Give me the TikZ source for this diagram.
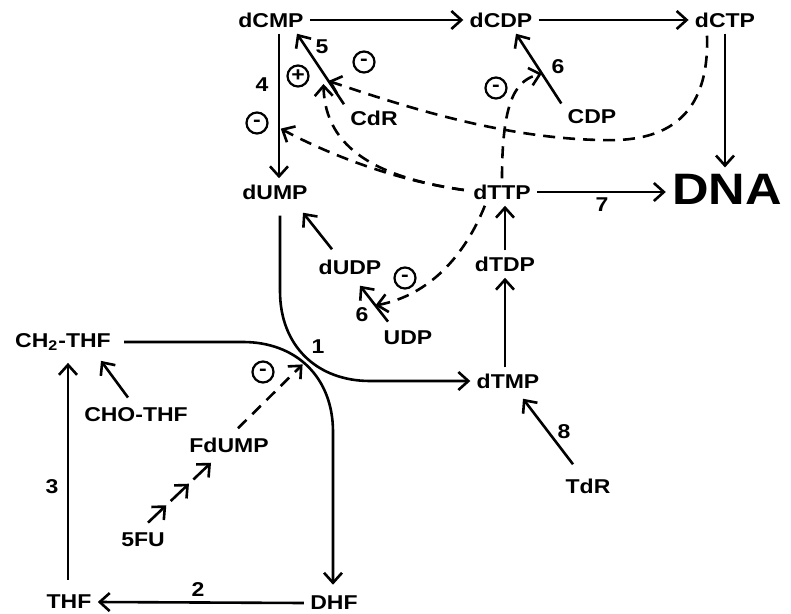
\documentclass[tikz,border=0pt]{standalone}
\usepackage{fontspec}
\setsansfont{Liberation Sans}[FakeStretch=1.15]
\usetikzlibrary{arrows.meta,calc}
\begin{document}
\begin{tikzpicture}[x=0.5pt,y=-0.5pt,
  every node/.style={font=\sffamily\bfseries\fontsize{10}{12}\selectfont, inner sep=3pt},
  big/.style={font=\sffamily\bfseries\fontsize{22}{26}\selectfont},
  num/.style={inner sep=0pt},
  arr/.style={line width=1.3pt, -{Straight Barb[length=5pt,width=9pt,line width=1.3pt]}},
  plain/.style={line width=1.3pt},
  dsh/.style={arr, dash pattern=on 6pt off 4pt},
  sign/.style={circle, draw, line width=1.1pt, minimum size=10.5pt, inner sep=0pt,
    font=\sffamily\bfseries\fontsize{10}{10}\selectfont}
]
\useasboundingbox (0,0) rectangle (791,614);
% metabolites
\node (dCMP) at (271,20) {dCMP};
\node (dCDP) at (501,20) {dCDP};
\node (dCTP) at (725,20) {dCTP};
\node[big] (DNA) at (727,189) {DNA};
\node (dTTP) at (502,192) {dTTP};
\node (dUMP) at (275,192) {dUMP};
\node (dUDP) at (350,267) {dUDP};
\node (dTDP) at (505,264) {dTDP};
\node (UDP) at (408,338) {UDP};
\node (dTMP) at (508,381) {dTMP};
\node (TdR) at (588,486) {TdR};
\node (CH2THF) at (63,342) {CH\textsubscript{2}-THF};
\node (CHOTHF) at (136,415) {CHO-THF};
\node (FdUMP) at (229,445) {FdUMP};
\node (FU) at (143,540) {5FU};
\node (THF) at (69,602) {THF};
\node (DHF) at (334,603) {DHF};
\node (CdR) at (374,118) {CdR};
\node (CDP) at (592,117) {CDP};
% reaction end points
\coordinate (r4s) at ($(dCMP.south)+(8,0)$);
\coordinate (r4e) at (r4s |- dUMP.north);
\coordinate (r5s) at (CdR.north west);
\coordinate (r5e) at ($(dCMP.south)+(26,0)$);
\coordinate (r6s) at (CDP.north west);
\coordinate (r6e) at ($(dCDP.south)+(15,0)$);
\coordinate (r6bs) at ($(UDP.north)+(-20,-3)$);
\coordinate (r6be) at ($(dUDP.south)+(10,5)$);
\coordinate (i4) at ($(r4s)!0.65!(r4e)$);
\coordinate (i5) at ($(r5s)!0.33!(r5e)$);
\coordinate (i6) at ($(r6s)!0.43!(r6e)$);
\coordinate (i6b) at ($(r6bs)!0.45!(r6be)$);
\coordinate (X) at (304,363);
\coordinate (f1) at ($(FU.north)+(5,-4)$);
\coordinate (f2) at ($(FdUMP.south)+(-18,4)$);
% solid reactions
\draw[arr] (dCMP) -- (dCDP);
\draw[arr] (dCDP) -- (dCTP);
\draw[arr] (dCTP.south) -- (dCTP.south |- DNA.north);
\draw[arr] (r4s) -- (r4e);
\draw[arr] (r5s) -- (r5e);
\draw[arr] (r6s) -- (r6e);
\draw[arr] (dTTP.east) -- (dTTP.east -| DNA.west);
\draw[arr] (dTDP.north) -- (dTDP.north |- dTTP.south);
\draw[arr] (dTDP.south |- dTMP.north) -- (dTDP.south);
\draw[arr] ($(TdR.north)+(-15,-8)$) -- ($(dTMP.south)+(15,4)$);
\draw[arr] ($(dUDP.north)+(-18,-4)$) -- ($(dUMP.south)+(28,7)$);
\draw[arr] (r6bs) -- (r6be);
\draw[arr] ($(CHOTHF.north)+(-8,-4)$) -- ($(CH2THF.south)+(38,4)$);
\draw[arr] ($(THF.north)+(-1,-9)$) -- ($(THF.north |- CH2THF.south)+(-1,6)$);
\draw[arr] (DHF.west) -- (THF.east);
% reaction 1 (thymidylate synthase)
\draw[arr] ($(dUMP.south)+(5,10)$) -- (280,291) .. controls (280,346) and (317,381) .. (370,381) -- (dTMP.west);
\draw[arr] ($(CH2THF.east)+(7,0)$) -- (243,342) .. controls (296,342) and (333,377) .. (333,432) -- ($(DHF.north)+(-1,-5)$);
% 5FU -> FdUMP
\draw[arr] (f1) -- ($(f1)!0.29!(f2)$);
\draw[arr] ($(f1)!0.36!(f2)$) -- ($(f1)!0.65!(f2)$);
\draw[arr] ($(f1)!0.72!(f2)$) -- (f2);
\draw[dsh, shorten >=1pt] ($(FdUMP.north)+(9,-3)$) -- (X);
% regulation (dashed)
\draw[dsh] ($(dCTP.south)+(-18,2)$) .. controls (710,130) and (650,142) .. (600,140) .. controls (500,138) and (400,105) .. (i5);
\draw[dsh, shorten >=1pt] ($(dTTP.west)+(-3,-2)$) .. controls (390,180) and (320,150) .. (i4);
\draw[dsh] ($(dTTP.west)+(-3,-2)$) .. controls (380,178) and (325,150) .. ($(i5)+(-5,3)$);
\draw[dsh] (dTTP.north) .. controls (502,95) and (518,80) .. (i6);
\draw[dsh] ($(dTTP.south west)+(18,0)$) .. controls (465,255) and (430,295) .. (i6b);
% signs
\node[sign] (s1) at (298,76) {+};
\node[sign] (s2) at (364,62) {-};
\node[sign] (s3) at (257,123) {-};
\node[sign] (s4) at (496,88) {-};
\node[sign] (s5) at (405,278) {-};
\node[sign] (s6) at (263,372) {-};
% enzyme numbers
\node[num] (n5) at (322,47) {5};
\node[num] (n4) at (262,85) {4};
\node[num] (n6) at (558,67) {6};
\node[num] (n7) at (602,205) {7};
\node[num] (n6b) at (362,315) {6};
\node[num] (n1) at (318,347) {1};
\node[num] (n3) at (52,487) {3};
\node[num] (n2) at (198,590) {2};
\node[num] (n8) at (564,432) {8};
\end{tikzpicture}
\end{document}
